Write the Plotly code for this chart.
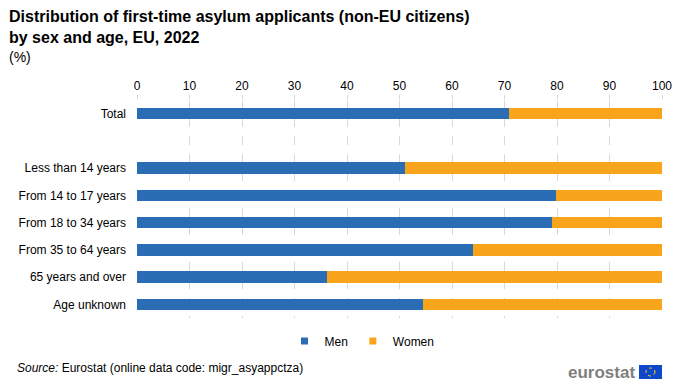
import plotly.graph_objects as go

categories = ["Total", " ", "Less than 14 years", "From 14 to 17 years", "From 18 to 34 years",
              "From 35 to 64 years", "65 years and over", "Age unknown"]
men = [70.8, None, 51.1, 79.8, 79.1, 64.0, 36.2, 54.4]
women = [29.2, None, 48.9, 20.2, 20.9, 36.0, 63.8, 45.6]
ticks = [0, 10, 20, 30, 40, 50, 60, 70, 80, 90, 100]

BLUE = "#2a6db4"
ORANGE = "#f9a51b"
FONT = "Liberation Sans, Arial, sans-serif"

L, R, T, B = 137, 38, 100, 65
PW, PH = 700 - L - R, 383 - T - B

def px(x):
    return (x - L) / PW

def py(y):
    return 1 - (y - T) / PH

fig = go.Figure()
fig.add_trace(go.Bar(y=categories, x=men, name="Men", orientation="h", showlegend=False,
                     marker=dict(color=BLUE, line=dict(width=0)), width=0.42))
fig.add_trace(go.Bar(y=categories, x=women, name="Women", orientation="h", showlegend=False,
                     marker=dict(color=ORANGE, line=dict(width=0)), width=0.42))
# legend entries with small square symbols
fig.add_trace(go.Scatter(x=[None], y=[None], mode="markers", name="Men",
                         marker=dict(symbol="square", size=7, color=BLUE)))
fig.add_trace(go.Scatter(x=[None], y=[None], mode="markers", name="Women",
                         marker=dict(symbol="square", size=7, color=ORANGE)))

fig.update_layout(
    width=700, height=383,
    barmode="stack",
    paper_bgcolor="white", plot_bgcolor="white",
    margin=dict(l=L, r=R, t=T, b=B, autoexpand=False),
    font=dict(family=FONT, size=12, color="#000000"),
    showlegend=True,
    legend=dict(orientation="h", x=px(362), xanchor="center", y=py(341), yanchor="middle",
                traceorder="normal", font=dict(size=12), itemwidth=30, tracegroupgap=0),
    xaxis=dict(range=[0, 100], side="top", tickvals=ticks, ticktext=[str(t) for t in ticks],
               showgrid=True, gridcolor="#d9d9d9", griddash="dash", gridwidth=1,
               zeroline=False, ticks="outside", ticklen=4, tickcolor="#d9d9d9",
               showline=False, tickfont=dict(size=12), fixedrange=True),
    yaxis=dict(categoryorder="array", categoryarray=categories, autorange="reversed",
               showgrid=False, zeroline=False, showline=False, ticks="",
               ticklabelstandoff=10, tickfont=dict(size=12)),
    annotations=[
        dict(text="<b>Distribution of first-time asylum applicants (non-EU citizens)<br>by sex and age, EU, 2022</b>",
             xref="paper", yref="paper", x=px(7), y=py(6), xanchor="left", yanchor="top",
             showarrow=False, align="left", font=dict(size=16, family=FONT)),
        dict(text="(%)", xref="paper", yref="paper", x=px(7), y=py(47),
             xanchor="left", yanchor="top", showarrow=False, font=dict(size=14, family=FONT)),
        dict(text="<i>Source:</i> Eurostat (online data code: migr_asyappctza)",
             xref="paper", yref="paper", x=px(15), y=py(368), xanchor="left", yanchor="middle",
             showarrow=False, font=dict(size=12, family=FONT)),
        dict(text="<b>eurostat</b>", xref="paper", yref="paper", x=px(637), y=py(372),
             xanchor="right", yanchor="middle", showarrow=False,
             font=dict(size=17, family=FONT, color="#7f7f7f")),
    ],
    shapes=[
        dict(type="rect", xref="paper", yref="paper", x0=px(639), x1=px(662),
             y0=py(379), y1=py(365), fillcolor="#0e47cb", line=dict(width=0)),
        dict(type="circle", xref="paper", yref="paper", x0=px(646), x1=px(655),
             y0=py(376), y1=py(368), line=dict(color="#ffdd00", width=1, dash="dot")),
    ],
)

fig.write_html("out.html", config={"displayModeBar": False},
               post_script="document.body.style.margin='0';")
